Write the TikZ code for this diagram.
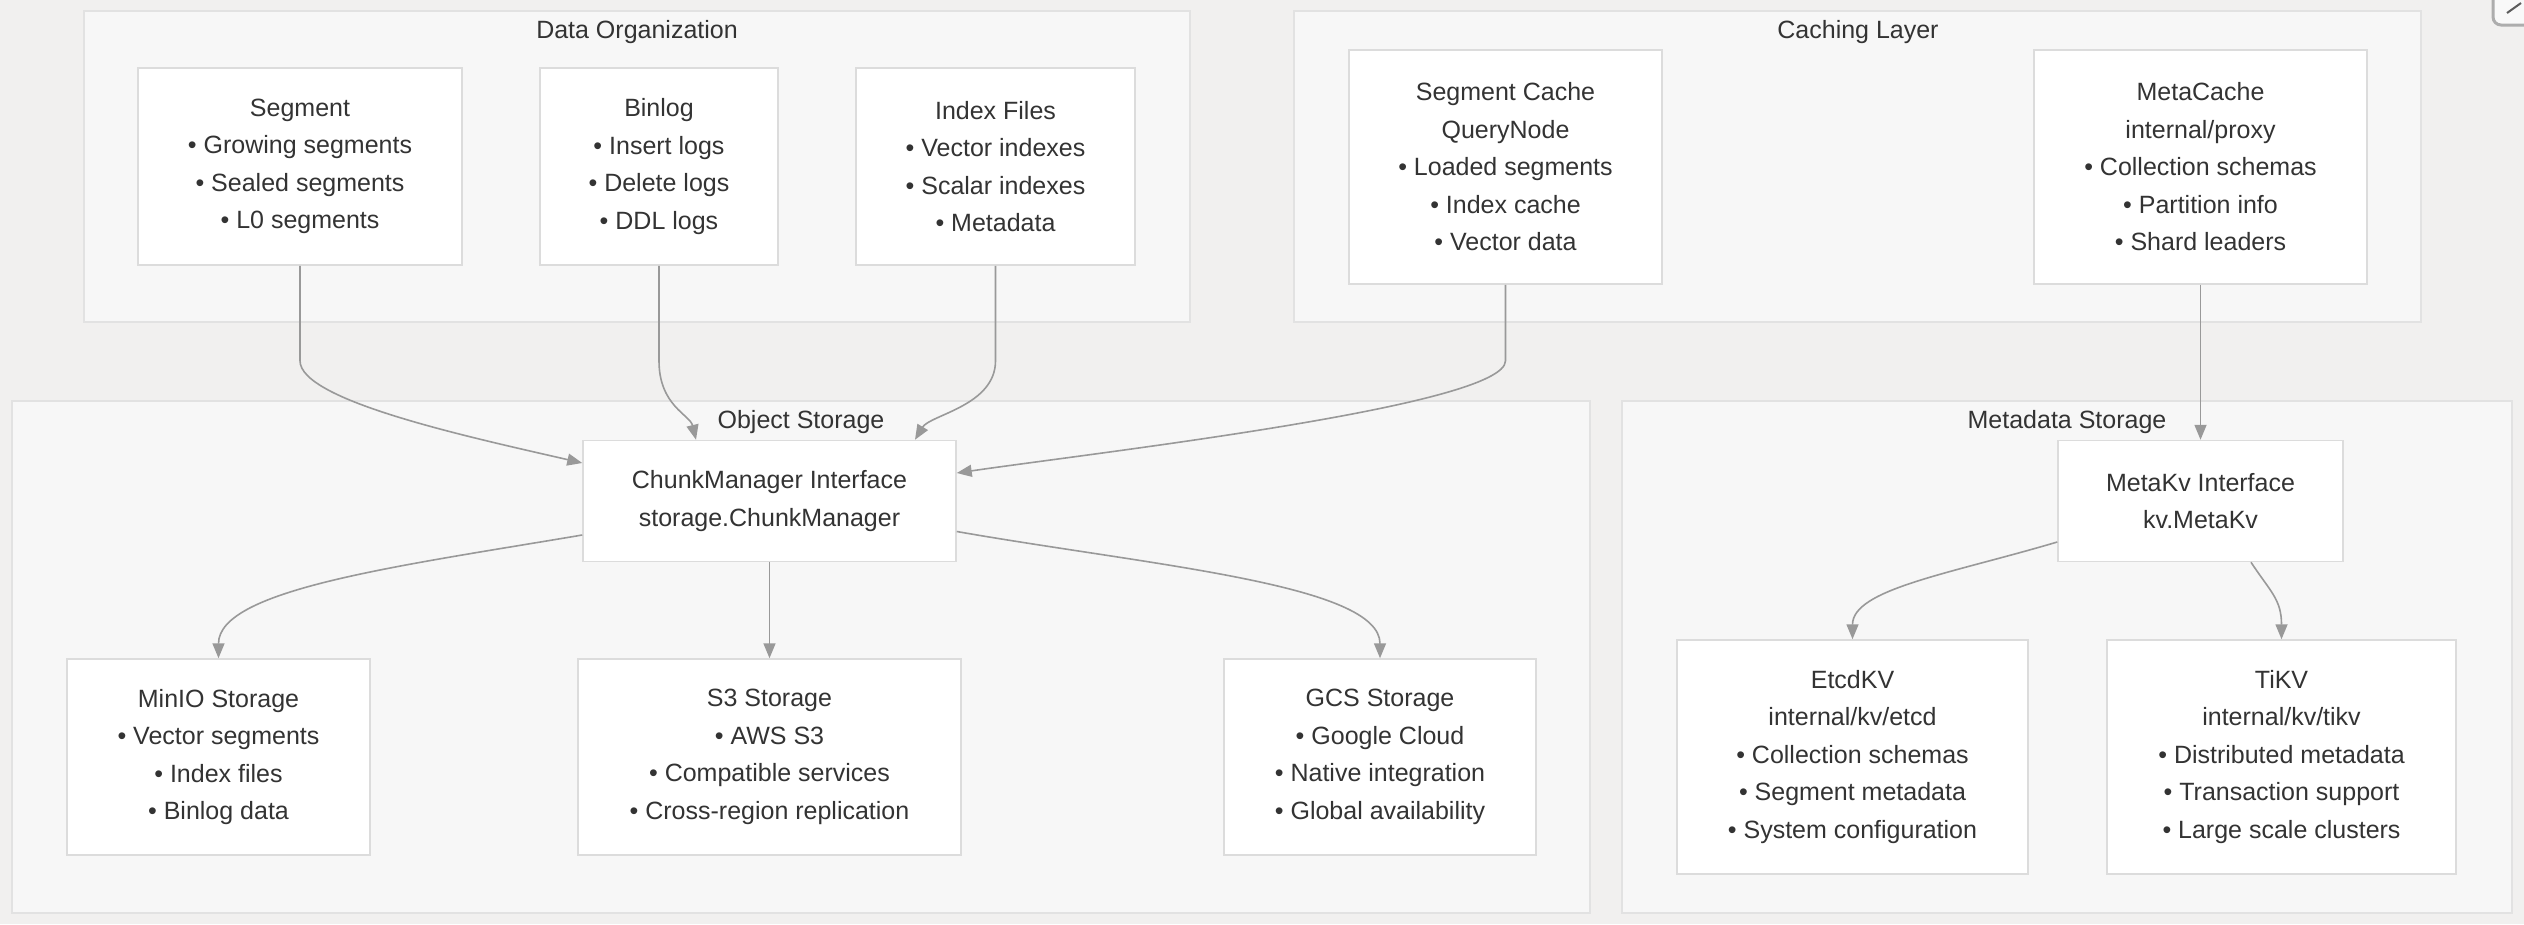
\documentclass[tikz,border=0pt]{standalone}
\usepackage{fontspec}
\setmainfont{Liberation Sans}
\usetikzlibrary{arrows.meta,positioning}
\definecolor{canvas}{HTML}{F1F0EF}
\definecolor{groupfill}{HTML}{F7F7F7}
\definecolor{groupline}{HTML}{E2E2E2}
\definecolor{boxline}{HTML}{DCDCDC}
\definecolor{wire}{HTML}{999999}
\definecolor{ink}{HTML}{333333}

\begin{document}
\begin{tikzpicture}[x=1pt,y=-1pt,
  group/.style={fill=groupfill,draw=groupline,line width=2pt},
  grouptitle/.style={text=ink,font=\fontsize{25}{30}\selectfont},
  box/.style={draw=boxline,fill=white,line width=1.5pt,text=ink,align=center,inner sep=0pt,font=\fontsize{25}{37.5}\selectfont},
  flow/.style={draw=wire,line width=1.6pt,-{Triangle[length=15pt,width=12pt]}}]
  \fill[canvas] (0,0) rectangle (2524,924);
  \useasboundingbox (0,0) rectangle (2524,924);
  \begin{scope}
    \clip (0,0) rectangle (2524,924);
    \draw[draw=wire!80,fill=white!60!canvas,line width=3pt,rounded corners=8pt] (2493,-20) rectangle (2560,25);
    \draw[draw=ink!80,line width=2pt] (2507,13) -- (2521,3);
  \end{scope}
% Groups
  \draw[group] (84,11) rectangle (1190,322);
  \node[grouptitle] (orgtitle) at (637,32) {Data Organization};
  \draw[group] (1294,11) rectangle (2421,322);
  \node[grouptitle] (cachetitle) at (1858,32) {Caching Layer};
  \draw[group] (12,401) rectangle (1590,913);
  \node[grouptitle] (objtitle) at (801,422) {Object Storage};
  \draw[group] (1622,401) rectangle (2512,913);
  \node[grouptitle] (metatitle) at (2067,422) {Metadata Storage};
% Data organization
  \node[box,minimum width=324pt,minimum height=197pt] (seg) at (300,166.5) {Segment\\• Growing segments\\• Sealed segments\\• L0 segments};
  \node[box,minimum width=238pt,minimum height=197pt] (binlog) at (659,166.5) {Binlog\\• Insert logs\\• Delete logs\\• DDL logs};
  \node[box,minimum width=279pt,minimum height=197pt] (idx) at (995.5,166.5) {Index Files\\• Vector indexes\\• Scalar indexes\\• Metadata};
% Caching layer
  \node[box,minimum width=313pt,minimum height=234pt] (segcache) at (1505.5,167) {Segment Cache\\QueryNode\\• Loaded segments\\• Index cache\\• Vector data};
  \node[box,minimum width=333pt,minimum height=234pt] (metacache) at (2200.5,167) {MetaCache\\internal/proxy\\• Collection schemas\\• Partition info\\• Shard leaders};
% Object storage
  \node[box,minimum width=373pt,minimum height=121pt] (chunk) at (769.5,501) {ChunkManager Interface\\storage.ChunkManager};
  \node[box,minimum width=303pt,minimum height=196pt] (minio) at (218.5,757) {MinIO Storage\\• Vector segments\\• Index files\\• Binlog data};
  \node[box,minimum width=383pt,minimum height=196pt] (s3) at (769.5,757) {S3 Storage\\• AWS S3\\• Compatible services\\• Cross-region replication};
  \node[box,minimum width=312pt,minimum height=196pt] (gcs) at (1380,757) {GCS Storage\\• Google Cloud\\• Native integration\\• Global availability};
% Metadata storage
  \node[box,minimum width=285pt,minimum height=121pt] (metakv) at (2200.5,501) {MetaKv Interface\\kv.MetaKv};
  \node[box,minimum width=351pt,minimum height=234pt] (etcd) at (1852.5,757) {EtcdKV\\internal/kv/etcd\\• Collection schemas\\• Segment metadata\\• System configuration};
  \node[box,minimum width=349pt,minimum height=234pt] (tikv) at (2281.5,757) {TiKV\\internal/kv/tikv\\• Distributed metadata\\• Transaction support\\• Large scale clusters};
% Into the chunk manager
  \draw[flow] (seg.south) -- ++(0,95) .. controls +(0,40) and +(-113,-26) .. ([yshift=38pt]chunk.west);
  \draw[flow] (binlog.south) -- ++(0,95) .. controls +(0,45) and +(-6,-25) .. ([xshift=-73.5pt]chunk.north);
  \draw[flow] (idx.south) -- ++(0,95) .. controls +(0,45) and +(15,-25) .. ([xshift=145.5pt]chunk.north);
  \draw[flow] (segcache.south) -- ++(0,76) .. controls +(0,45) and +(144,-21) .. ([yshift=28pt]chunk.east);
  \draw[flow] (metacache.south) -- (metakv.north);
% Out to the back ends
  \draw[flow] ([yshift=-34pt]chunk.west) .. controls +(-183,31) and +(0,-69) .. (minio.north);
  \draw[flow] (chunk.south) -- (s3.north);
  \draw[flow] ([yshift=-30.5pt]chunk.east) .. controls +(194,34) and +(0,-74) .. (gcs.north);
  \draw[flow] ([yshift=-41pt]metakv.west) .. controls +(-108,32) and +(0,-50) .. (etcd.north);
  \draw[flow] ([xshift=50.5pt]metakv.south) .. controls +(19,29) and +(0,-40) .. (tikv.north);
\end{tikzpicture}
\end{document}
